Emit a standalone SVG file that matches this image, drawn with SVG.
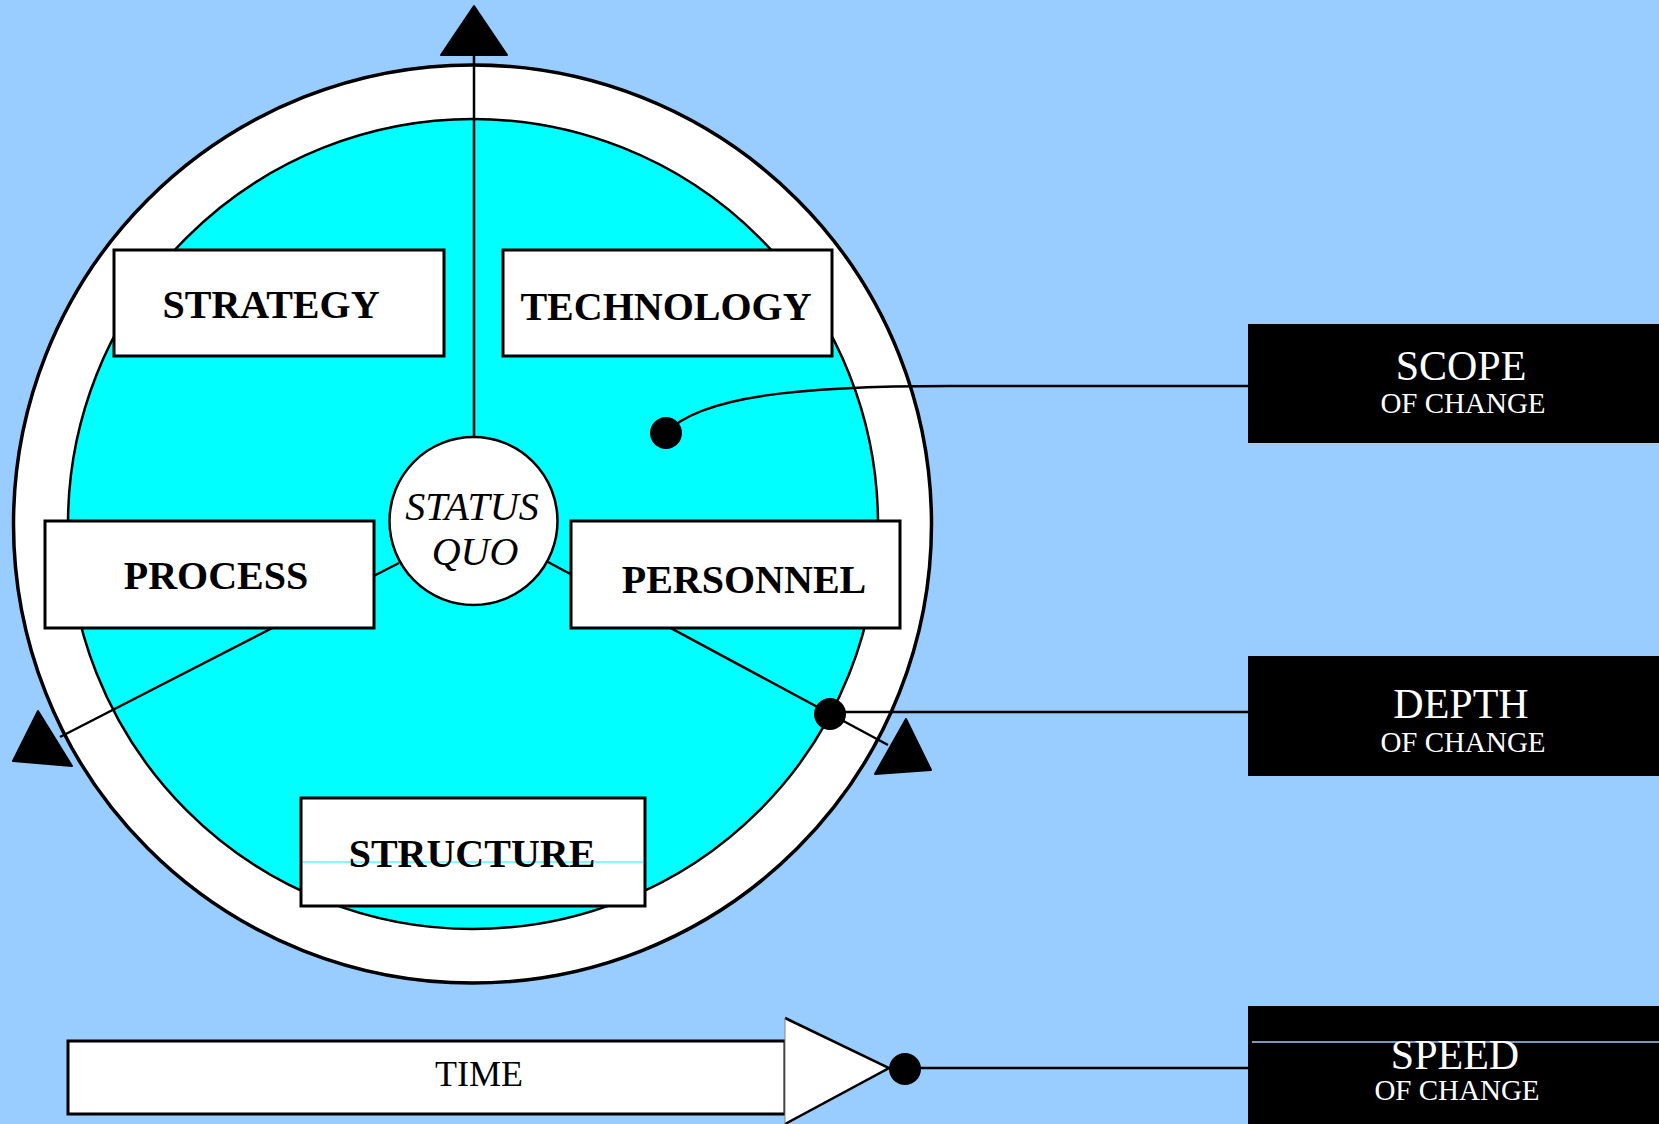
<svg xmlns="http://www.w3.org/2000/svg" width="1659" height="1124" viewBox="0 0 1659 1124">
<style>
.box{fill:#fff;stroke:#000;stroke-width:3}
.lbl{font-family:"Liberation Serif",serif;font-weight:bold;font-size:40px;fill:#000;text-anchor:middle}
.blk{fill:#000}
.wt{font-family:"Liberation Serif",serif;fill:#fff;text-anchor:middle}
.ln{stroke:#000;stroke-width:2.5;fill:none}
.tri{fill:#000;stroke:#000;stroke-width:2;stroke-linejoin:round}
.sq{font-family:"Liberation Serif",serif;font-style:italic;font-size:40px;text-anchor:middle}
</style>
<rect width="1659" height="1124" fill="#99CCFF"/>
<g id="wheel">
<circle cx="472.5" cy="524" r="459" fill="#fff" stroke="#000" stroke-width="3.5"/>
<circle cx="473" cy="524" r="405" fill="#00FFFF" stroke="#000" stroke-width="2.5"/>
</g>
<g id="connectors">
<line class="ln" x1="474" y1="55" x2="474" y2="437" stroke-width="2"/>
<line class="ln" x1="399" y1="563" x2="60" y2="737"/>
<line class="ln" x1="548" y1="562" x2="888" y2="745"/>
<path class="ln" d="M666 433 C700 396 800 386 950 386 L1248 386"/>
<line class="ln" x1="830" y1="712" x2="1248" y2="712"/>
<line class="ln" x1="905" y1="1068" x2="1248" y2="1068"/>
<polygon class="tri" points="474,6 441,55 507,55"/>
<polygon class="tri" points="38,711 13,761 72,766"/>
<polygon class="tri" points="906,719 875,774 931,770"/>
<circle cx="666" cy="433" r="16" class="blk"/>
<circle cx="830" cy="714" r="16" class="blk"/>
<circle cx="905" cy="1069" r="16" class="blk"/>
</g>
<g id="status-quo">
<circle cx="473.5" cy="521" r="84" fill="#fff" stroke="#000" stroke-width="2.5"/>
<text class="sq" x="472" y="520">STATUS</text>
<text class="sq" x="475" y="565">QUO</text>
</g>
<g id="strategy">
<rect class="box" x="114" y="250" width="330" height="106"/>
<text class="lbl" x="271" y="318">STRATEGY</text>
</g>
<g id="technology">
<rect class="box" x="503" y="250" width="329" height="106"/>
<text class="lbl" x="666" y="320">TECHNOLOGY</text>
</g>
<g id="process">
<rect class="box" x="45" y="521" width="329" height="107"/>
<text class="lbl" x="216" y="589">PROCESS</text>
</g>
<g id="personnel">
<rect class="box" x="571" y="521" width="329" height="107"/>
<text class="lbl" x="744" y="593">PERSONNEL</text>
</g>
<g id="structure">
<rect class="box" x="301" y="798" width="344" height="108"/>
<line x1="303" y1="862" x2="643" y2="862" stroke="#00FFFF" stroke-width="1"/>
<text class="lbl" x="472" y="867">STRUCTURE</text>
</g>
<g id="scope">
<rect class="blk" x="1248" y="324" width="411" height="119"/>
<text class="wt" x="1461" y="380" font-size="42">SCOPE</text>
<text class="wt" x="1463" y="413" font-size="29">OF CHANGE</text>
</g>
<g id="depth">
<rect class="blk" x="1248" y="656" width="411" height="120"/>
<text class="wt" x="1461" y="718" font-size="42">DEPTH</text>
<text class="wt" x="1463" y="752" font-size="29">OF CHANGE</text>
</g>
<g id="speed">
<rect class="blk" x="1248" y="1006" width="411" height="118"/>
<line x1="1252" y1="1042" x2="1659" y2="1042" stroke="#99CCFF" stroke-width="1.5"/>
<text class="wt" x="1455" y="1069" font-size="42">SPEED</text>
<text class="wt" x="1457" y="1100" font-size="29">OF CHANGE</text>
</g>
<g id="time">
<rect x="68" y="1041" width="717" height="73" fill="#fff" stroke="#000" stroke-width="3"/>
<polygon points="785,1018 889,1068 785,1124" fill="#fff"/>
<polyline points="785,1018 889,1068 785,1124" fill="none" stroke="#000" stroke-width="2.5"/>
<line x1="785" y1="1018" x2="785" y2="1124" stroke="#888" stroke-width="1"/>
<text x="479" y="1086" font-family="Liberation Serif,serif" font-size="36" text-anchor="middle">TIME</text>
</g>
</svg>
